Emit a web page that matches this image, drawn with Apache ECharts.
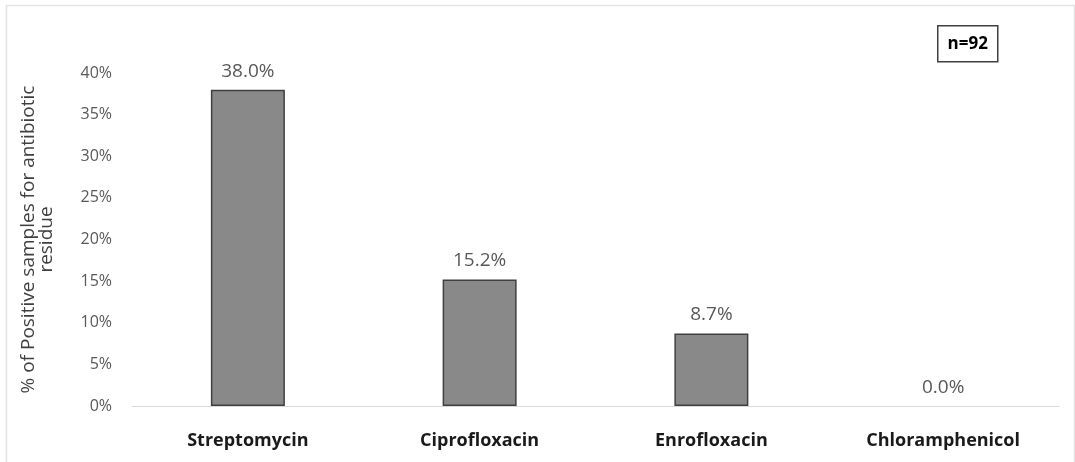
<!DOCTYPE html>
<html>
<head>
<meta charset="utf-8">
<script src="https://cdn.jsdelivr.net/npm/echarts@6/dist/echarts.min.js"></script>
<style>
  html, body { margin: 0; padding: 0; background: #fff; }
  #chart { width: 1075px; height: 462px; }
</style>
</head>
<body>
<div id="chart"></div>
<script>
// Antibiotic residue positivity by drug
const categories = ['Streptomycin', 'Ciprofloxacin', 'Enrofloxacin', 'Chloramphenicol'];
const positivePct = [38.0, 15.2, 8.7, 0.0];
const yTicks = [0, 5, 10, 15, 20, 25, 30, 35, 40];
const sampleNote = 'n=92';
const yAxisTitle = '% of Positive samples for antibiotic\nresidue';

const chart = echarts.init(document.getElementById('chart'), null, { renderer: 'canvas' });
const font = '"Open Sans", "Liberation Sans", sans-serif';

// a zero-height bar draws no outline
const barData = positivePct.map(v => ({
  value: v,
  itemStyle: v === 0 ? { borderWidth: 0 } : undefined
}));

chart.setOption({
  animation: false,
  backgroundColor: '#ffffff',
  grid: { left: 132, right: 16, top: 73, bottom: 56, containLabel: false },
  xAxis: {
    type: 'category',
    data: categories,
    axisLine: { show: true, lineStyle: { color: '#d9d9d9', width: 1 } },
    axisTick: { show: false },
    axisLabel: {
      color: '#1a1a1a', fontFamily: font, fontWeight: 'bold', fontSize: 18, margin: 26
    }
  },
  yAxis: {
    type: 'value',
    min: yTicks[0],
    max: yTicks[yTicks.length - 1],
    interval: 5,
    name: yAxisTitle,
    nameLocation: 'middle',
    nameGap: 76,
    nameRotate: 90,
    nameTextStyle: { color: '#404040', fontFamily: font, fontSize: 19, lineHeight: 18 },
    axisLine: { show: false },
    axisTick: { show: false },
    splitLine: { show: false },
    axisLabel: {
      color: '#595959', fontFamily: font, fontSize: 16, margin: 20,
      formatter: v => v + '%'
    }
  },
  series: [{
    type: 'bar',
    data: barData,
    barWidth: 74,
    itemStyle: { color: '#898989', borderColor: '#404040', borderWidth: 1.5 },
    label: {
      show: true, position: 'top', distance: 9,
      color: '#595959', fontFamily: font, fontSize: 19,
      formatter: p => p.value.toFixed(1) + '%'
    }
  }],
  graphic: [
    {
      type: 'rect', left: 4, top: 3,
      shape: { width: 1068, height: 470 },
      style: { fill: 'none', stroke: '#e4e4e4', lineWidth: 1.5 },
      silent: true
    },
    {
      type: 'group', left: 937, top: 25,
      children: [
        {
          type: 'rect',
          shape: { x: 0, y: 0, width: 60, height: 36 },
          style: { fill: '#ffffff', stroke: '#404040', lineWidth: 1.5 }
        },
        {
          type: 'text', x: 30, y: 18,
          style: {
            text: sampleNote, fill: '#000', font: 'bold 17px ' + font,
            align: 'center', verticalAlign: 'middle'
          }
        }
      ]
    }
  ]
});
</script>
</body>
</html>
